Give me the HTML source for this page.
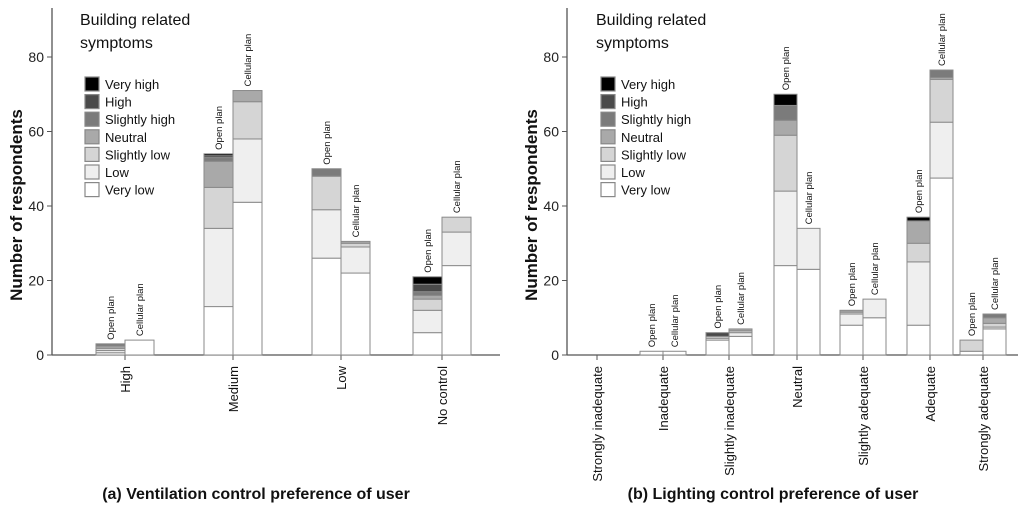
<!DOCTYPE html>
<html><head><meta charset="utf-8"><style>
html,body{margin:0;padding:0;background:#fff;}
svg{display:block;font-family:"Liberation Sans",sans-serif;}
</style></head><body>
<svg id="chart" width="1024" height="510" viewBox="0 0 1024 510" xmlns="http://www.w3.org/2000/svg"></svg>
<script>
const levels = ["Very low","Low","Slightly low","Neutral","Slightly high","High","Very high"];
const yTicks = [0,20,40,60,80];
const leftCategories = ["High","Medium","Low","No control"];
const leftOpen = [[0.6,0.6,0.6,0.6,0.6,0,0],[13,21,11,7,1,0.5,0.5],[26,13,9,0,2,0,0],[6,6,3,1,1,2,2]];
const leftCellular = [[4,0,0,0,0,0,0],[41,17,10,3,0,0,0],[22,7,1,0.5,0,0,0],[24,9,4,0,0,0,0]];
const rightCategories = ["Strongly inadequate","Inadequate","Slightly inadequate","Neutral","Slightly adequate","Adequate","Strongly adequate"];
const rightOpen = [[0,0,0,0,0,0,0],[1,0,0,0,0,0,0],[4,0.5,0.5,0,0,1,0],[24,20,15,4,4,0,3],[8,3,0.5,0.5,0,0,0],[8,17,5,6,0,0,1],[1,0,3,0,0,0,0]];
const rightCellular = [[0,0,0,0,0,0,0],[1,0,0,0,0,0,0],[5,1,0.5,0.5,0,0,0],[23,11,0,0,0,0,0],[10,5,0,0,0,0,0],[47.5,15,11.5,0.5,2,0,0],[7,0.5,1,1.5,1,0,0]];

const colors = ["#ffffff","#efefef","#d5d5d5","#a9a9a9","#7b7b7b","#4a4a4a","#000000"];
const NS = "http://www.w3.org/2000/svg";
const svg = document.getElementById('chart');
function mk(tag, attrs, parent){const e=document.createElementNS(NS,tag);for(const k in attrs)e.setAttribute(k,attrs[k]);(parent||svg).appendChild(e);return e;}
const y0=355, y80=57;
function yScale(v){return y0-(y0-y80)*v/80;}

function drawPanel(p){
  const g=mk('g',{});
  
  
  const ax=mk('line',{x1:p.axisX,y1:y0,x2:p.axisX,y2:8,stroke:'#555','stroke-width':1.3},g);
  
  const xx=mk('line',{x1:p.axisX,y1:y0,x2:p.axisEnd,y2:y0,stroke:'#555','stroke-width':1.3},g);
  
  yTicks.forEach(t=>{
    const y=yScale(t);
    mk('line',{x1:p.axisX-5,y1:y,x2:p.axisX,y2:y,stroke:'#555'},g);
    const tx=mk('text',{x:p.axisX-8,y:y+5,'text-anchor':'end','font-size':14,fill:'#222'},g);
    tx.textContent=t;
    
  });
  const yl=mk('text',{x:0,y:0,transform:`translate(${p.axisX-30},205) rotate(-90)`,'text-anchor':'middle','font-size':17,'font-weight':'bold',fill:'#111'},g);
  yl.textContent='Number of respondents';
  
  p.cats.forEach((c,i)=>{
    const tx=p.ticks[i];
    mk('line',{x1:tx,y1:y0,x2:tx,y2:y0+5,stroke:'#555'},g);
    const lb=mk('text',{x:0,y:0,transform:`translate(${tx+5},${y0+11}) rotate(-90)`,'text-anchor':'end','font-size':13,fill:'#111'},g);
    lb.textContent=c;
    
    [[p.open[i],tx-p.bw,'Open plan'],[p.cell[i],tx,'Cellular plan']].forEach(([vals,bx,name])=>{
      let cum=0;
      vals.forEach((v,k)=>{
        if(v<=0)return;
        const ya=yScale(cum), yb=yScale(cum+v);
        const r=mk('rect',{x:bx,y:yb,width:p.bw,height:ya-yb,fill:colors[k],stroke:'#8a8a8a','stroke-width':1},g);
        
        
        cum+=v;
      });
      if(cum>0){
        const top=yScale(cum);
        const t=mk('text',{x:0,y:0,transform:`translate(${bx+p.bw/2+3.5},${top-4}) rotate(-90)`,'font-size':9.5,fill:'#111'},g);
        t.textContent=name;
        
      }
    });
  });
  const lt=mk('text',{x:p.legX-5,y:25,'font-size':16,fill:'#111'},g);
  lt.textContent='Building related';
  
  const lt2=mk('text',{x:p.legX-5,y:48,'font-size':16,fill:'#111'},g);
  lt2.textContent='symptoms';
  
  for(let k=6;k>=0;k--){
    const row=6-k, y=77+row*17.6;
    const sw=mk('rect',{x:p.legX,y:y,width:14,height:14,fill:colors[k],stroke:'#888','stroke-width':1.2},g);
    
    const tt=mk('text',{x:p.legX+20,y:y+12,'font-size':13,fill:'#111'},g);
    tt.textContent=levels[k];
    
  }
  const ti=mk('text',{x:p.titleX,y:499,'text-anchor':'middle','font-size':16,'font-weight':'bold',fill:'#111'},g);
  ti.textContent=p.title;
  
}
drawPanel({id:'ventilation',axisX:52,axisEnd:500,cats:leftCategories,open:leftOpen,cell:leftCellular,ticks:[125,233,341,442],bw:29,legX:85,titleX:256,title:'(a) Ventilation control preference of user'});
drawPanel({id:'lighting',axisX:567,axisEnd:1018,cats:rightCategories,open:rightOpen,cell:rightCellular,ticks:[597,663,729,797,863,930,983],bw:23,legX:601,titleX:773,title:'(b) Lighting control preference of user'});
</script>
</body></html>
